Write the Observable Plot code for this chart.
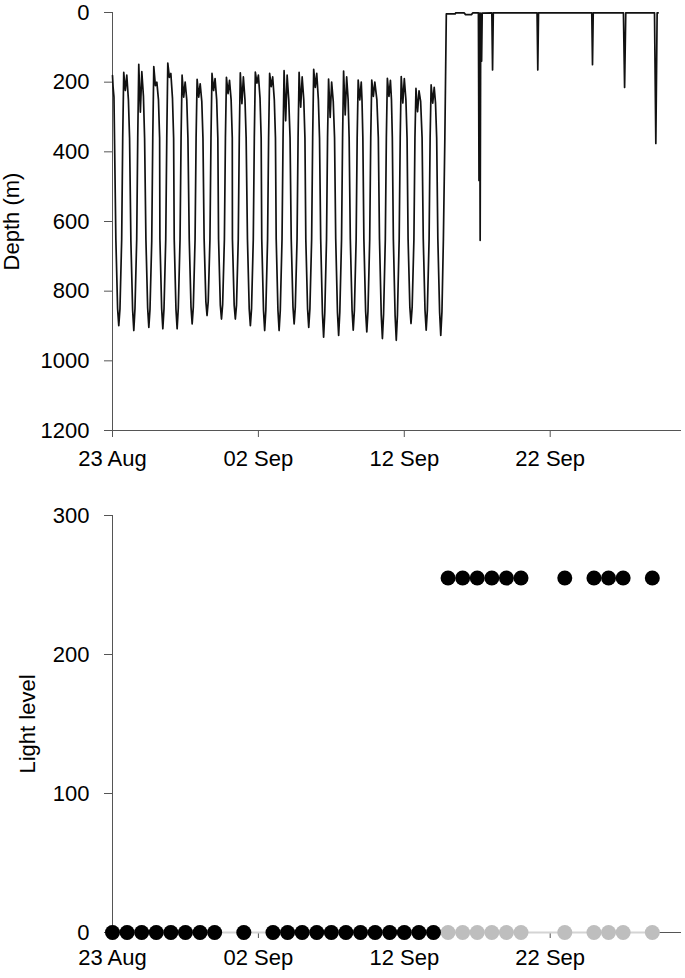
<!DOCTYPE html>
<html>
<head>
<meta charset="utf-8">
<script src="https://cdn.jsdelivr.net/npm/d3@7"></script>
<script src="https://cdn.jsdelivr.net/npm/@observablehq/plot@0.6"></script>
<style>
  html, body { margin: 0; padding: 0; background: #fff; }
  body { width: 685px; height: 978px; overflow: hidden; font-family: "Liberation Sans", Arial, sans-serif; }
  #chart svg { display: block; }
</style>
</head>
<body>
<div id="chart"></div>
<script>
// ---- data ----
const startDateUTC = [2013, 7, 23];          // 23 Aug, day 0 of the record
const axisEndDay = 39;                        // x axis runs to 01 Oct
const xTickDays = [0, 10, 20, 30];            // 23 Aug, 02 Sep, 12 Sep, 22 Sep
const depthTicks = [0, 200, 400, 600, 800, 1000, 1200];
const lightTicks = [0, 100, 200, 300];

// depth track: [days since 23 Aug 00:00, depth m]
const depthTrack = [
  [0.00,181],[0.04,214],[0.10,243],
  [0.23,650],[0.35,850],[0.43,899],[0.51,852],[0.63,650],[0.70,360],[0.77,172],[0.88,224],[0.98,180],[1.09,250],[1.17,360],
  [1.26,655],[1.38,855],[1.46,913],[1.54,850],[1.66,650],[1.73,360],[1.80,149],[1.91,286],[2.01,170],[2.12,240],[2.20,360],
  [2.29,650],[2.41,848],[2.49,904],[2.57,852],[2.69,655],[2.76,360],[2.83,155],[2.94,210],[3.04,200],[3.15,250],[3.23,360],
  [3.25,650],[3.37,850],[3.45,908],[3.53,850],[3.65,650],[3.72,360],[3.79,145],[3.90,186],[4.00,175],[4.11,245],[4.19,360],
  [4.23,650],[4.35,852],[4.43,908],[4.51,848],[4.63,650],[4.70,360],[4.77,180],[4.88,243],[4.98,200],[5.09,250],[5.17,360],
  [5.26,650],[5.38,845],[5.46,894],[5.54,845],[5.66,650],[5.73,360],[5.80,192],[5.91,243],[6.01,205],[6.12,255],[6.20,360],
  [6.28,650],[6.40,830],[6.48,870],[6.56,830],[6.68,650],[6.75,360],[6.82,175],[6.93,224],[7.03,190],[7.14,250],[7.22,360],
  [7.27,650],[7.39,840],[7.47,880],[7.55,838],[7.67,650],[7.74,360],[7.81,186],[7.92,233],[8.02,195],[8.13,250],[8.21,360],
  [8.22,650],[8.34,840],[8.42,880],[8.50,840],[8.62,650],[8.69,360],[8.76,173],[8.87,262],[8.97,185],[9.08,250],[9.16,360],
  [9.25,650],[9.37,850],[9.45,899],[9.53,850],[9.65,650],[9.72,360],[9.79,171],[9.90,203],[10.00,180],[10.11,245],[10.19,360],
  [10.23,650],[10.35,855],[10.43,913],[10.51,855],[10.63,650],[10.70,360],[10.77,175],[10.88,213],[10.98,185],[11.09,250],[11.17,360],
  [11.22,650],[11.34,855],[11.42,913],[11.50,855],[11.62,650],[11.69,360],[11.76,167],[11.87,311],[11.97,180],[12.08,250],[12.17,360],
  [12.25,650],[12.37,845],[12.45,894],[12.53,845],[12.65,650],[12.72,360],[12.79,172],[12.90,272],[13.00,185],[13.11,250],[13.19,360],
  [13.25,650],[13.37,850],[13.45,904],[13.53,850],[13.65,650],[13.72,360],[13.79,163],[13.90,215],[14.00,175],[14.11,250],[14.19,360],
  [14.27,650],[14.39,865],[14.47,932],[14.55,862],[14.67,650],[14.74,360],[14.81,191],[14.92,301],[15.02,200],[15.13,255],[15.22,360],
  [15.30,650],[15.42,862],[15.50,927],[15.58,860],[15.70,650],[15.77,360],[15.84,168],[15.95,294],[16.05,185],[16.15,250],[16.22,360],
  [16.30,650],[16.42,855],[16.50,912],[16.58,855],[16.70,650],[16.77,360],[16.84,194],[16.95,251],[17.05,200],[17.10,250],[17.16,360],
  [17.23,650],[17.35,858],[17.43,917],[17.51,858],[17.63,650],[17.70,360],[17.77,194],[17.88,241],[17.98,200],[18.12,250],[18.22,360],
  [18.30,650],[18.42,868],[18.50,936],[18.58,866],[18.70,650],[18.77,360],[18.84,189],[18.95,241],[19.05,195],[19.12,250],[19.18,360],
  [19.25,650],[19.37,870],[19.45,941],[19.53,868],[19.65,650],[19.72,360],[19.79,184],[19.90,260],[20.00,190],[20.11,250],[20.19,360],
  [20.26,650],[20.38,845],[20.46,893],[20.54,845],[20.66,650],[20.73,360],[20.80,218],[20.91,285],[21.01,225],[21.12,255],[21.22,360],
  [21.30,650],[21.42,855],[21.50,912],[21.58,855],[21.70,650],[21.77,360],[21.84,208],[21.95,260],[22.05,215],[22.14,260],[22.22,360],
  [22.30,650],[22.42,860],[22.50,927],[22.58,860],[22.68,650],[22.78,360],[22.88,4],
  [23.30,4],[23.50,4],[23.52,1],[24.10,1],[24.20,6],[24.60,6],[24.70,1],
  [25.08,1],[25.12,482],[25.16,2],[25.20,654],[25.24,2],[25.30,140],[25.34,2],
  [26.00,1],[26.05,165],[26.10,1],
  [29.10,1],[29.15,165],[29.20,1],
  [32.85,1],[32.90,150],[32.95,1],
  [35.02,1],[35.10,215],[35.18,1],
  [37.15,1],[37.24,376],[37.33,1],[37.40,1]
];

// light level records (one per day)
const lightDays = [0,1,2,3,4,5,6,7,9,11,12,13,14,15,16,17,18,19,20,21,22,23,24,25,26,27,28,31,33,34,35,37];
const lightMax  = [0,0,0,0,0,0,0,0,0,0,0,0,0,0,0,0,0,0,0,0,0,255,255,255,255,255,255,255,255,255,255,255];
const lightMin  = [0,0,0,0,0,0,0,0,0,0,0,0,0,0,0,0,0,0,0,0,0,0,0,0,0,0,0,0,0,0,0,0];

// ---- build ----
const t0 = Date.UTC(...startDateUTC);
const day = t => new Date(t0 + t * 864e5);
const xDomain = [day(0), day(axisEndDay)];
const xTicks = xTickDays.map(day);
const fmt = d3.utcFormat("%d %b");
const intFmt = d3.format("d");
const axisColor = "#555";
const font = { fontFamily: "'Liberation Sans', Arial, sans-serif", fontSize: "22px", color: "#000", background: "#fff", overflow: "visible" };

const depthData = depthTrack.map(([t, d]) => ({ date: day(t), depth: d }));
const lightData = lightDays.map((t, i) => ({ date: day(t), max: lightMax[i], min: lightMin[i] }));

const topChart = Plot.plot({
  width: 685, height: 488,
  marginLeft: 112, marginRight: 4, marginTop: 12, marginBottom: 58,
  style: font,
  x: { type: "utc", domain: xDomain },
  y: { domain: [0, 1200], reverse: true },
  marks: [
    Plot.axisX({ ticks: xTicks, tickFormat: fmt, tickSize: 7, tickPadding: 13, stroke: axisColor, label: null }),
    Plot.axisY({ ticks: depthTicks, tickFormat: intFmt, tickSize: 8, tickPadding: 15, stroke: axisColor,
                 label: "Depth (m)", labelAnchor: "center", labelArrow: "none" }),
    Plot.ruleX([day(0)], { stroke: axisColor }),
    Plot.ruleY([1200], { stroke: axisColor }),
    Plot.line(depthData, { x: "date", y: "depth", stroke: "#111", strokeWidth: 1.7, curve: "linear" })
  ]
});

const bottomChart = Plot.plot({
  width: 685, height: 490,
  marginLeft: 112, marginRight: 4, marginTop: 27, marginBottom: 46,
  style: font,
  x: { type: "utc", domain: xDomain },
  y: { domain: [0, 300] },
  marks: [
    Plot.axisX({ ticks: xTicks, tickFormat: fmt, tickSize: 6, tickPadding: 11, stroke: axisColor, label: null }),
    Plot.axisY({ ticks: lightTicks, tickFormat: intFmt, tickSize: 8, tickPadding: 15, stroke: axisColor,
                 label: "Light level", labelAnchor: "center", labelArrow: "none", labelOffset: 93 }),
    Plot.ruleX([day(0)], { stroke: axisColor }),
    Plot.ruleY([0], { stroke: axisColor }),
    Plot.line(lightData, { x: "date", y: "min", stroke: "#d4d4d4", strokeWidth: 2 }),
    Plot.dot(lightData, { x: "date", y: "min", r: 7.5, fill: "#bebebe", stroke: "none" }),
    Plot.dot(lightData, { x: "date", y: "max", r: 7.5, fill: "#000", stroke: "none" })
  ]
});

const root = document.getElementById("chart");
root.appendChild(topChart);
root.appendChild(bottomChart);
</script>
</body>
</html>
